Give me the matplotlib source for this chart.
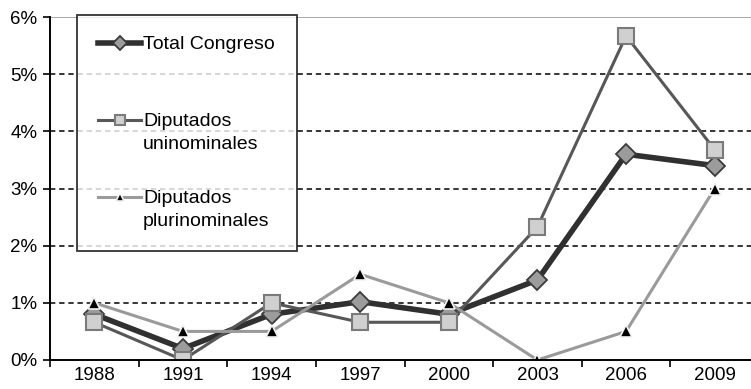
import numpy as np
import matplotlib.pyplot as plt
from matplotlib.ticker import FixedLocator, FuncFormatter

plt.rcParams['font.family'] = ['Liberation Sans', 'DejaVu Sans']

anios = ['1988', '1991', '1994', '1997', '2000', '2003', '2006', '2009']
total_congreso = [0.80, 0.20, 0.80, 1.02, 0.80, 1.40, 3.60, 3.40]
uninominales = [0.66, 0.00, 1.00, 0.66, 0.66, 2.33, 5.67, 3.68]
plurinominales = [1.00, 0.50, 0.50, 1.50, 1.00, 0.00, 0.50, 3.00]

fig = plt.figure(figsize=(7.51, 3.89), dpi=100)
ax = fig.add_axes([50 / 751, 29 / 389, 709 / 751, 343 / 389])

x = np.arange(len(anios))

# lineas de cuadricula
for v in range(1, 6):
    ax.axhline(v, color='black', lw=1.1, ls=(0, (3.5, 2.5)), zorder=1)
ax.axhline(6, color='#9a9a9a', lw=1.2, zorder=1)

ax.plot(x, total_congreso, color='#303030', lw=4.0, marker='D', ms=10,
        mfc='#9c9c9c', mec='#3a3a3a', mew=1.3, label='Total Congreso\n ', zorder=3)
ax.plot(x, uninominales, color='#575757', lw=2.2, marker='s', ms=11,
        mfc='#d0d0d0', mec='#7a7a7a', mew=1.5, label='Diputados\nuninominales', zorder=4)
ax.plot(x, plurinominales, color='#9a9a9a', lw=2.2, marker='^', ms=8,
        mfc='black', mec='#f2f2f2', mew=1.2, label='Diputados\nplurinominales', zorder=5)

ax.set_xlim(-0.5, len(anios) - 0.5)
ax.set_ylim(0, 6)

ax.set_xticks(x)
ax.set_xticklabels(anios)
ax.xaxis.set_minor_locator(FixedLocator(np.arange(-0.5, len(anios), 1.0)))
ax.tick_params(axis='x', which='major', length=0, pad=5, labelsize=13.5)
ax.tick_params(axis='x', which='minor', length=5, width=1.2, direction='out')

ax.set_yticks(range(0, 7))
ax.yaxis.set_major_formatter(FuncFormatter(lambda v, p: f'{int(v)}%'))
ax.tick_params(axis='y', length=5, width=1.2, direction='out', pad=4, labelsize=13.5)

for s in ['top', 'right']:
    ax.spines[s].set_visible(False)
for s in ['left', 'bottom']:
    ax.spines[s].set_linewidth(1.4)
ax.spines['bottom'].set_zorder(6)

leg = ax.legend(loc='upper left', bbox_to_anchor=(27 / 709, 1.006, 220 / 709, 0),
                mode='expand', frameon=True, fancybox=False, fontsize=14,
                handlelength=2.2, handletextpad=0.1, labelspacing=1.9,
                borderpad=1.1, borderaxespad=0, markerscale=0.7)
leg.get_frame().set_edgecolor('black')
leg.get_frame().set_linewidth(1.3)
leg.set_zorder(10)
for t in leg.get_texts():
    t.set_linespacing(1.45)

# manejar el marcador a la altura de la primera linea del texto
for col in leg._legend_handle_box.get_children():
    for item in col.get_children():
        item.align = 'top'

fig.savefig('out.png', dpi=100)
